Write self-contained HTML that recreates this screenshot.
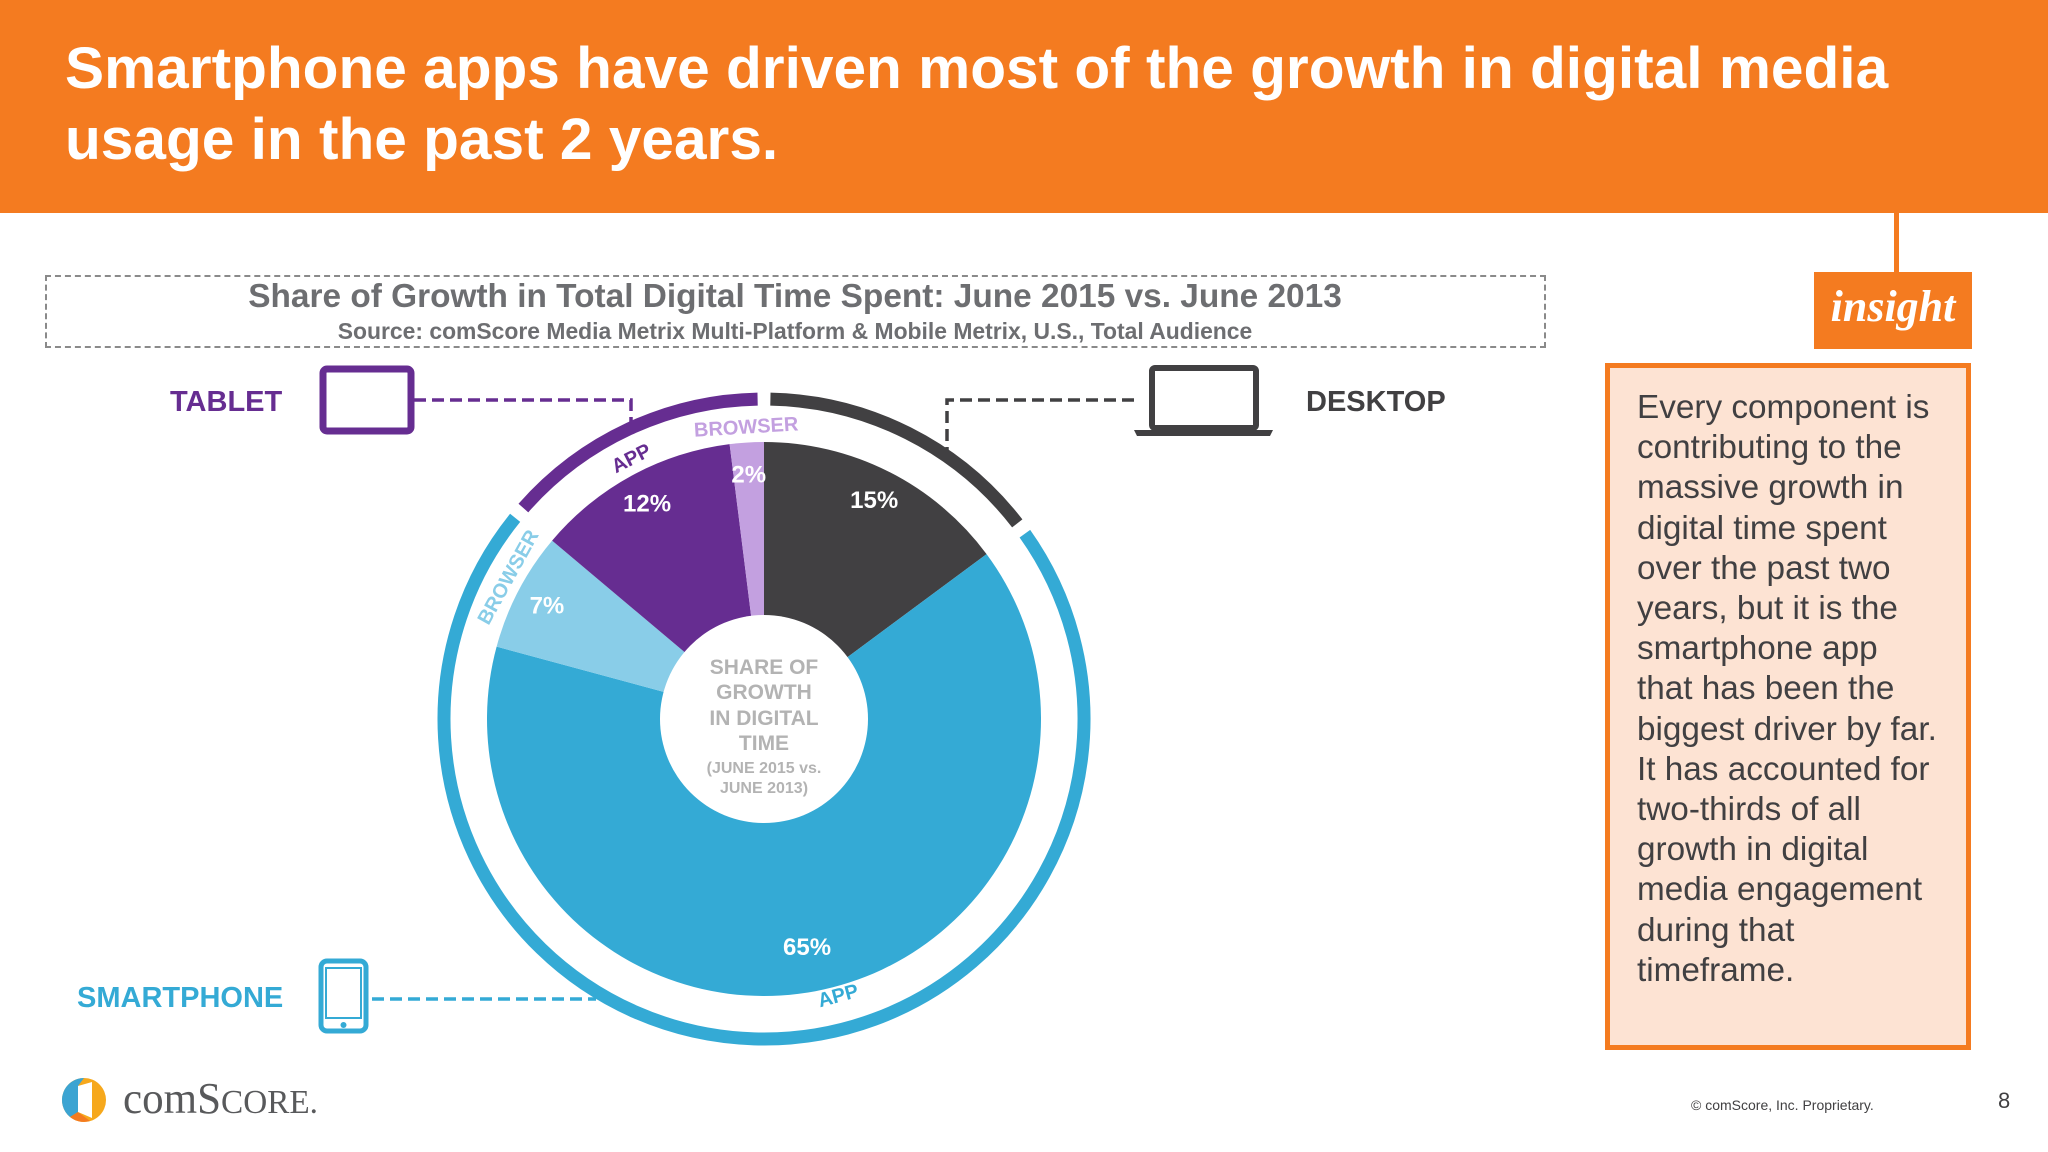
<!DOCTYPE html>
<html><head><meta charset="utf-8">
<style>
html,body{margin:0;padding:0;background:#fff;}
body{width:2048px;height:1152px;position:relative;overflow:hidden;font-family:"Liberation Sans",Arial,sans-serif;}
.abs{position:absolute;}
</style></head><body>
<div class="abs" style="left:0;top:0;width:2048px;height:213px;background:#F47B20;"></div>
<div class="abs" style="left:65px;top:33px;color:#fff;font-weight:bold;font-size:58.6px;line-height:71px;white-space:nowrap;">Smartphone apps have driven most of the growth in digital media<br>usage in the past 2 years.</div>

<div class="abs" style="left:45px;top:275px;width:1497px;height:69px;border:2.5px dashed #8a8a8a;"></div>
<div class="abs" style="left:45px;top:278px;width:1500px;text-align:center;color:#6d6e71;font-weight:bold;font-size:33.4px;">Share of Growth in Total Digital Time Spent: June 2015 vs. June 2013</div>
<div class="abs" style="left:45px;top:318px;width:1500px;text-align:center;color:#6d6e71;font-weight:bold;font-size:22.9px;">Source: comScore Media Metrix Multi-Platform &amp; Mobile Metrix, U.S., Total Audience</div>

<div class="abs" style="left:1894px;top:213px;width:5px;height:60px;background:#F47B20;"></div>
<div class="abs" style="left:1814px;top:272px;width:158px;height:77px;background:#F47B20;color:#fff;font-family:'Liberation Serif',serif;font-style:italic;font-weight:bold;font-size:44px;text-align:center;line-height:70px;">insight</div>
<div class="abs" style="left:1605px;top:363px;width:356px;height:677px;border:5px solid #F47B20;background:#FDE3D3;"></div>
<div class="abs" style="left:1637px;top:388px;width:300px;color:#414042;font-size:33.3px;line-height:40.2px;">Every component is contributing to the massive growth in digital time spent over the past two years, but it is the smartphone app that has been the biggest driver by far. It has accounted for two-thirds of all growth in digital media engagement during that timeframe.</div>

<div class="abs" style="left:1691px;top:1097px;color:#414042;font-size:14px;">© comScore, Inc. Proprietary.</div>
<div class="abs" style="left:1998px;top:1088px;color:#414042;font-size:22px;">8</div>

<svg class="abs" style="left:0;top:0" width="2048" height="1152">
  <g>
    <circle cx="84" cy="1100" r="22" fill="#F6A81C"/>
    <path d="M84 1078 A22 22 0 0 0 70 1117 L78 1112 L78 1086 Z" fill="#3CA4D2"/>
    <path d="M70 1117 A22 22 0 0 0 90 1121 L78 1112 Z" fill="#F47B20"/>
    <path d="M78 1086 L92 1082 L92 1118 L78 1112 Z" fill="#fff"/>
    <text x="123" y="1113" font-family="Liberation Serif, serif" font-size="44" fill="#58595b" textLength="195" lengthAdjust="spacingAndGlyphs">com<tspan>S</tspan><tspan font-size="34">CORE.</tspan></text>
  </g>
  <g id="legend-layer"></g>
  <g id="pie-layer"></g>
</svg>

<script>
const categories = ["Desktop","Smartphone App","Smartphone Browser","Tablet App","Tablet Browser"];
const values = [15,65,7,12,2];
const devices = ["desktop","smartphone","smartphone","tablet","tablet"];
const sliceColors = ["#414042","#34AAD5","#89CDE8","#662D91","#C3A0E0"];
const deviceNames = ["desktop","smartphone","tablet"];
const deviceColors = ["#414042","#34AAD5","#662D91"];

const NS="http://www.w3.org/2000/svg";
const cx=764, cy=719, rOut=277, rIn=104, ringR=320, ringW=13;
const total = values.reduce((a,b)=>a+b,0);
function ang(v){return v/total*2*Math.PI;}
function pt(r,a){return [cx+r*Math.sin(a), cy-r*Math.cos(a)];}
function mk(tag,attrs,parent){const e=document.createElementNS(NS,tag);for(const k in attrs)e.setAttribute(k,attrs[k]);parent.appendChild(e);return e;}
const pie=document.getElementById('pie-layer');
let acc=0; const starts=[], ends=[];
values.forEach((v,i)=>{
  const a0=ang(acc), a1=ang(acc+v); acc+=v; starts.push(a0); ends.push(a1);
  const [x0,y0]=pt(rOut,a0),[x1,y1]=pt(rOut,a1);
  const large=(a1-a0)>Math.PI?1:0;
  const p=mk('path',{d:`M${cx} ${cy} L${x0} ${y0} A${rOut} ${rOut} 0 ${large} 1 ${x1} ${y1} Z`,fill:sliceColors[i]},pie);
  
  
  const mid=(a0+a1)/2, rl = v>50?232:245;
  const [lx,ly]=pt(rl, mid);
  const t=mk('text',{x:lx,y:ly+8,'text-anchor':'middle','font-size':24,'font-weight':'bold',fill:'#fff'},pie);
  t.textContent=v+'%';
  
  
});
const hole=mk('circle',{cx:cx,cy:cy,r:rIn,fill:'#fff'},pie);


[["SHARE OF",667,21],["GROWTH",692,21],["IN DIGITAL",718,21],["TIME",743,21],["(JUNE 2015 vs.",766,16],["JUNE 2013)",786,16]].forEach((l,i)=>{
  const t=mk('text',{x:cx,y:l[1]+7,'text-anchor':'middle','font-size':l[2],'font-weight':'bold',fill:'#b3b3b3'},pie);
  t.textContent=l[0];
  
  
});
deviceNames.forEach((d,j)=>{
  let a0=null,a1=null;
  devices.forEach((dv,i)=>{if(dv===d){if(a0===null)a0=starts[i];a1=ends[i];}});
  const g=0.02; a0+=g; a1-=g;
  const [x0,y0]=pt(ringR,a0),[x1,y1]=pt(ringR,a1);
  const large=(a1-a0)>Math.PI?1:0;
  const p=mk('path',{d:`M${x0} ${y0} A${ringR} ${ringR} 0 ${large} 1 ${x1} ${y1}`,fill:'none',stroke:deviceColors[j],'stroke-width':ringW},pie);
  
  
});
[["BROWSER",-3.5,"#C3A0E0",0],["APP",-27,"#662D91",0],["BROWSER",-61,"#89CDE8",0],["APP",165,"#34AAD5",1]].forEach(l=>{
  const a=l[1]*Math.PI/180; const r=l[3]?286:293;
  const [x,y]=pt(r,a); const rot=l[3]?l[1]-180:l[1];
  const t=mk('text',{x:x,y:y+7,'text-anchor':'middle','font-size':20,'font-weight':'bold',fill:l[2],transform:`rotate(${rot} ${x} ${y})`},pie);
  t.textContent=l[0];
  
  
});
const lg=document.getElementById('legend-layer');
function txt(s,x,y,c,name){const t=mk('text',{x:x,y:y,'font-size':29,'font-weight':'bold',fill:c},lg);t.textContent=s;}
txt("TABLET",170,411,"#662D91","tablet-label");
txt("DESKTOP",1306,411,"#414042","desktop-label");
txt("SMARTPHONE",77,1007,"#34AAD5","smartphone-label");
let e;
e=mk('rect',{x:323,y:369,width:88,height:62,rx:4,fill:'none',stroke:'#662D91','stroke-width':7},lg);

e=mk('path',{d:'M414 400 H631 V426',fill:'none',stroke:'#662D91','stroke-width':3.5,'stroke-dasharray':'12 6'},lg);

e=mk('rect',{x:1152,y:368,width:104,height:60,rx:3,fill:'none',stroke:'#414042','stroke-width':6},lg);

e=mk('path',{d:'M1134 430 H1273 L1270 436 H1137 Z',fill:'#414042'},lg);

e=mk('path',{d:'M1134 400 H947 V452',fill:'none',stroke:'#414042','stroke-width':3.5,'stroke-dasharray':'12 6'},lg);

e=mk('rect',{x:321,y:961,width:45,height:70,rx:6,fill:'none',stroke:'#34AAD5','stroke-width':5},lg);

e=mk('rect',{x:326,y:968,width:35,height:50,fill:'#fff',stroke:'#34AAD5','stroke-width':2},lg);

e=mk('circle',{cx:343.5,cy:1025,r:3,fill:'#34AAD5'},lg);

e=mk('path',{d:'M372 999 H596',fill:'none',stroke:'#34AAD5','stroke-width':3.5,'stroke-dasharray':'12 6'},lg);

</script>
</body></html>
